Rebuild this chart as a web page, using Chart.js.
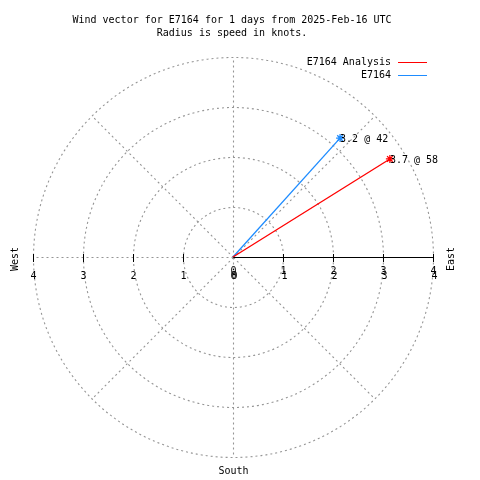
<!DOCTYPE html>
<html><head><meta charset="utf-8">
<script src="https://cdn.jsdelivr.net/npm/chart.js@4"></script>
<style>html,body{margin:0;padding:0;background:#fff}#wrap{width:480px;height:480px;position:relative}</style>
</head><body><div id="wrap"><canvas id="c"></canvas></div>
<script>
const seriesNames = ['E7164 Analysis', 'E7164'];
const speedsKnots = [3.7, 3.2];
const directionsDeg = [58, 42];
const ringValues = [1, 2, 3, 4];
const spokeAngles = [0, 45, 90, 135, 180, 225, 270, 315];
const tickValues = [0, 1, 2, 3, 4];
const tickLabels = ['0', '1', '2', '3', '4'];
const titleLines = ['Wind vector for E7164 for 1 days from 2025-Feb-16 UTC', 'Radius is speed in knots.'];
const compassLabels = ['West', 'East', 'South'];
const seriesColors = ['#ff0000', '#1e8cff'];
const FONT = '10px "DejaVu Sans Mono", monospace';

const datasets = seriesNames.map((name, i) => {
  const a = directionsDeg[i] * Math.PI / 180;
  return {
    label: name,
    data: [{x: 0, y: 0}, {x: speedsKnots[i] * Math.sin(a), y: speedsKnots[i] * Math.cos(a)}],
    showLine: true,
    borderColor: seriesColors[i],
    backgroundColor: seriesColors[i],
    borderWidth: 1.3,
    pointRadius: [0, 4],
    pointStyle: 'star',
    pointBorderColor: seriesColors[i],
    pointBorderWidth: 1.3
  };
});

const polarPlugin = {
  id: 'polar',
  beforeDatasetsDraw(chart) {
    const ctx = chart.ctx, xs = chart.scales.x, ys = chart.scales.y;
    const cx = xs.getPixelForValue(0), cy = ys.getPixelForValue(0);
    const unit = xs.getPixelForValue(1) - cx;
    const rMax = ringValues[ringValues.length - 1];
    ctx.save();
    ctx.strokeStyle = '#959595';
    ctx.lineWidth = 1.1;
    ctx.setLineDash([2, 3]);
    ringValues.forEach(r => {
      ctx.beginPath();
      ctx.arc(cx + 0.5, cy + 0.5, r * unit, 0, Math.PI * 2);
      ctx.stroke();
    });
    spokeAngles.forEach(deg => {
      const a = deg * Math.PI / 180;
      const px = xs.getPixelForValue(rMax * Math.sin(a));
      const py = ys.getPixelForValue(rMax * Math.cos(a));
      ctx.beginPath();
      ctx.moveTo(cx + 0.5, cy + 0.5);
      ctx.lineTo(px + 0.5, py + 0.5);
      ctx.stroke();
    });
    ctx.setLineDash([]);
    ctx.lineWidth = 1;
    // solid east axis
    ctx.strokeStyle = '#000';
    ctx.beginPath();
    ctx.moveTo(cx, cy + 0.5);
    ctx.lineTo(xs.getPixelForValue(rMax) + 1, cy + 0.5);
    ctx.stroke();
    // ticks both sides
    tickValues.forEach(v => {
      if (v === 0) return;
      [v, -v].forEach(t => {
        const px = Math.round(xs.getPixelForValue(t)) + 0.5;
        ctx.beginPath();
        ctx.moveTo(px, cy - 3);
        ctx.lineTo(px, cy + 5);
        ctx.stroke();
      });
    });
    // tick labels
    ctx.fillStyle = '#000';
    ctx.font = FONT;
    ctx.textAlign = 'center';
    ctx.textBaseline = 'middle';
    tickValues.forEach((v, i) => {
      ctx.fillText(tickLabels[i], xs.getPixelForValue(-v) + 0.5, cy + 19);
      ctx.fillText(tickLabels[i], xs.getPixelForValue(v) + 0.5, cy + 14);
      ctx.fillText(tickLabels[i], xs.getPixelForValue(v) + 1.5, cy + 19);
    });
    // compass labels
    ctx.save();
    ctx.translate(15, cy + 2);
    ctx.rotate(-Math.PI / 2);
    ctx.fillText(compassLabels[0], 0, 0);
    ctx.restore();
    ctx.save();
    ctx.translate(xs.getPixelForValue(rMax) + 18, cy + 2);
    ctx.rotate(-Math.PI / 2);
    ctx.fillText(compassLabels[1], 0, 0);
    ctx.restore();
    ctx.fillText(compassLabels[2], cx + 0.5, 471);
    // title
    titleLines.forEach((t, i) => ctx.fillText(t, 232, 20 + i * 13));
    // legend
    ctx.textAlign = 'right';
    seriesNames.forEach((n, i) => {
      const y = 62 + i * 13;
      ctx.fillStyle = '#000';
      ctx.fillText(n, 391, y);
      ctx.strokeStyle = seriesColors[i];
      ctx.beginPath();
      ctx.moveTo(398, y + 0.5);
      ctx.lineTo(427, y + 0.5);
      ctx.stroke();
    });
    ctx.restore();
  },
  afterDatasetsDraw(chart) {
    const ctx = chart.ctx;
    ctx.save();
    ctx.font = FONT;
    ctx.fillStyle = '#000';
    ctx.textAlign = 'left';
    ctx.textBaseline = 'middle';
    seriesNames.forEach((n, i) => {
      const pt = chart.getDatasetMeta(i).data[1];
      ctx.fillText(speedsKnots[i] + ' @ ' + directionsDeg[i], pt.x, pt.y + 1);
    });
    ctx.restore();
  }
};

new Chart(document.getElementById('c'), {
  type: 'scatter',
  data: {datasets},
  options: {
    responsive: true,
    maintainAspectRatio: false,
    animation: false,
    layout: {padding: {left: 33, right: 47, top: 57, bottom: 23}},
    scales: {
      x: {type: 'linear', min: -4, max: 4, display: false},
      y: {type: 'linear', min: -4, max: 4, display: false}
    },
    plugins: {legend: {display: false}, tooltip: {enabled: false}, title: {display: false}}
  },
  plugins: [polarPlugin]
});
</script>
</body></html>
